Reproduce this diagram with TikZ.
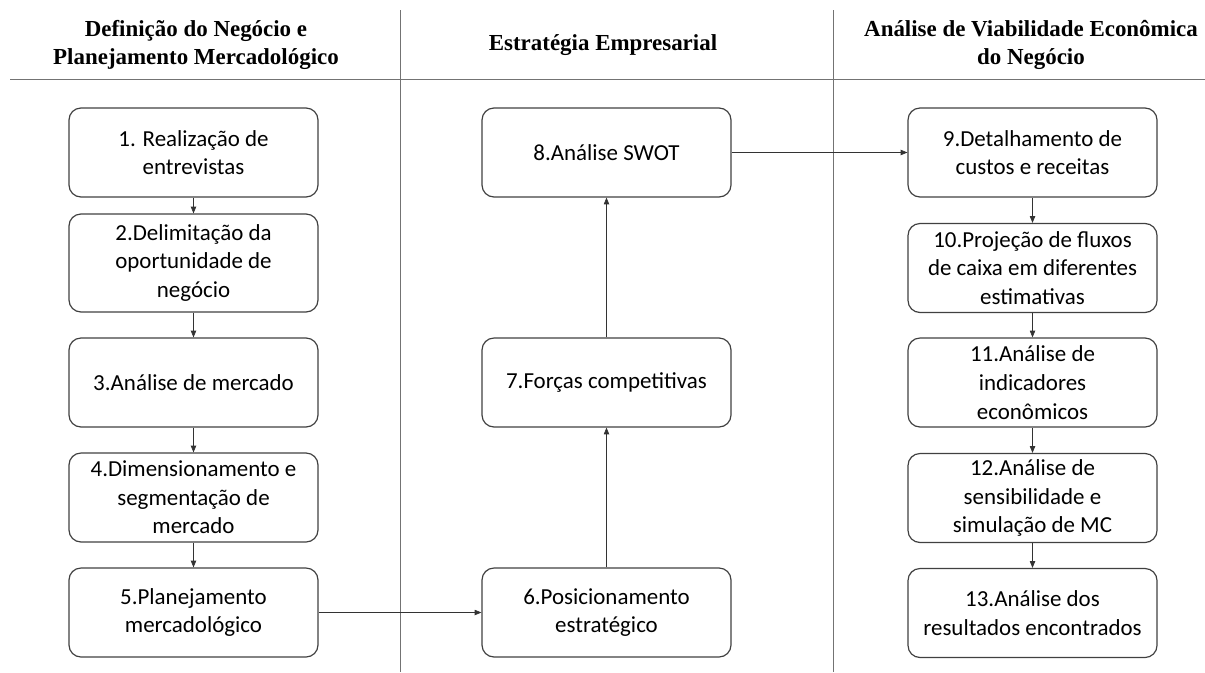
\documentclass[tikz,border=0pt]{standalone}
\usepackage{fontspec}
\setmainfont{Carlito}
\newfontfamily\headfont{Liberation Serif}
\usetikzlibrary{arrows.meta}
\tikzset{
  etapa/.style={draw=black!75, line width=0.9pt, rounded corners=9pt, align=center,
    minimum width=186.75pt, minimum height=66.75pt, inner sep=2pt,
    font=\fontsize{17.2}{21.5}\selectfont},
  titulo/.style={align=center, font=\headfont\bfseries\fontsize{17.2}{21}\selectfont},
  divisa/.style={draw=black!55, line width=0.7pt},
  seta/.style={draw=black!80, line width=0.5pt, -{Triangle[length=5pt,width=4pt]}}
}
\begin{document}
\begin{tikzpicture}[x=0.75pt,y=-0.75pt]
  \useasboundingbox (0,0) rectangle (1205,672);
  % colunas
  \draw[divisa] (10,79) -- (1205,79);
  \draw[divisa] (400,10) -- (400,672);
  \draw[divisa] (833,10) -- (833,672);
  \node[titulo] (t1) at (196,45) {Definição do Negócio e\\Planejamento Mercadológico};
  \node[titulo] (t2) at (603,45) {Estratégia Empresarial};
  \node[titulo] (t3) at (1031,45) {Análise de Viabilidade Econômica\\do Negócio};
  % definição do negócio
  \node[etapa] (e1) at (193.5,152.5) {1. Realização de\\entrevistas};
  \node[etapa, minimum height=73.5pt] (e2) at (193.5,263) {2.Delimitação da\\oportunidade de\\negócio};
  \node[etapa] (e3) at (193.5,382.5) {3.Análise de mercado};
  \node[etapa] (e4) at (193.5,497.5) {4.Dimensionamento e\\segmentação de\\mercado};
  \node[etapa] (e5) at (193.5,612.5) {5.Planejamento\\mercadológico};
  % estratégia
  \node[etapa] (e6) at (606.5,612.5) {6.Posicionamento\\estratégico};
  \node[etapa] (e7) at (606.5,382.5) {7.Forças competitivas};
  \node[etapa] (e8) at (606.5,152.5) {8.Análise SWOT};
  % viabilidade
  \node[etapa] (e9) at (1032.5,152.5) {9.Detalhamento de\\custos e receitas};
  \node[etapa] (e10) at (1032.5,268) {10.Projeção de fluxos\\de caixa em diferentes\\estimativas};
  \node[etapa] (e11) at (1032.5,382.5) {11.Análise de\\indicadores\\econômicos};
  \node[etapa] (e12) at (1032.5,498) {12.Análise de\\sensibilidade e\\simulação de MC};
  \node[etapa] (e13) at (1032.5,613) {13.Análise dos\\resultados encontrados};
  % setas
  \draw[seta] (e1) -- (e2);
  \draw[seta] (e2) -- (e3);
  \draw[seta] (e3) -- (e4);
  \draw[seta] (e4) -- (e5);
  \draw[seta] (e5) -- (e6);
  \draw[seta] (e6) -- (e7);
  \draw[seta] (e7) -- (e8);
  \draw[seta] (e8) -- (e9);
  \draw[seta] (e9) -- (e10);
  \draw[seta] (e10) -- (e11);
  \draw[seta] (e11) -- (e12);
  \draw[seta] (e12) -- (e13);
\end{tikzpicture}
\end{document}
